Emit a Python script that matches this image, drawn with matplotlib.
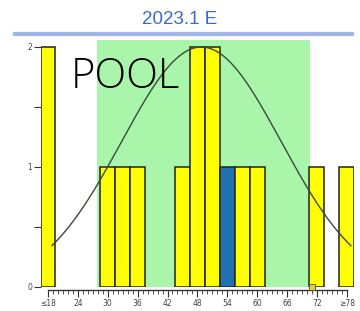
import matplotlib
matplotlib.use("Agg")
import matplotlib.pyplot as plt
import numpy as np

# Data
bin_centers = [18, 30, 33, 36, 45, 48, 51, 54, 57, 60, 72, 78]
counts = [2, 1, 1, 1, 1, 2, 2, 1, 1, 1, 1, 1]
bar_colors = ["#ffff00"] * 7 + ["#2272b0"] + ["#ffff00"] * 4
tick_values = [18, 24, 30, 36, 42, 48, 54, 60, 66, 72, 78]
tick_labels = ["≤18", "24", "30", "36", "42", "48", "54", "60", "66", "72", "≥78"]
curve_mean = 48.8
curve_sd = 16.0
curve_peak = 2.0
band_range = (27.8, 70.6)
marker_x = 71
title_text = "2023.1 E"
label_text = "POOL"

W, H = 360, 311
fig = plt.figure(figsize=(W / 100, H / 100), dpi=100)

left_px, right_px = 40.5, 354.3
top_px, bottom_px = 40, 287
ax = fig.add_axes([left_px / W, 1 - bottom_px / H,
                   (right_px - left_px) / W, (bottom_px - top_px) / H])
ax.set_xlim(16.5, 79.5)
ax.set_ylim(0, (bottom_px - top_px) / 120)

ax.axvspan(band_range[0], band_range[1], color="#a9f5a9", zorder=0, lw=0)

ax.bar(bin_centers, counts, width=3, color=bar_colors, edgecolor="#222222",
       linewidth=1.1, zorder=2)

xs = np.linspace(18.8, 78.8, 300)
ys = curve_peak * np.exp(-0.5 * ((xs - curve_mean) / curve_sd) ** 2)
ax.plot(xs, ys, color="#3c4a3c", lw=1.0, zorder=3)

ax.plot([marker_x], [0.0], marker="s", ms=4, color="#d8d24a",
        markeredgecolor="#555522", mew=0.6, clip_on=False, zorder=4)

for s in ["top", "right", "left"]:
    ax.spines[s].set_visible(False)
ax.spines["bottom"].set_position(("outward", 2))
ax.spines["bottom"].set_bounds(18, 78)
ax.spines["bottom"].set_color("#333333")
ax.spines["bottom"].set_linewidth(1.0)

ax.set_xticks(tick_values)
ax.set_xticklabels(tick_labels)
ax.set_xticks(np.arange(18, 79, 1), minor=True)
ax.tick_params(axis="x", which="major", length=5, width=0.8, colors="#333333",
               labelsize=5.5, pad=1.5, labelcolor="#444444")
ax.tick_params(axis="x", which="minor", length=3, width=0.6, colors="#333333")

ax.set_yticks([0, 1, 2])
ax.set_yticklabels(["0", "1", "2"])
ax.set_yticks([0.5, 1.5], minor=True)
ax.tick_params(axis="y", which="major", length=5, width=0.8, colors="#333333",
               labelsize=5.5, pad=1, labelcolor="#444444")
ax.tick_params(axis="y", which="minor", length=5, width=0.8, colors="#333333")

fig.text(180 / W, 1 - 20 / H, title_text, ha="center", va="center",
         fontsize=13.5, color="#3a6cc8", family="Liberation Sans")
fig.add_artist(plt.Line2D([15 / W, 352 / W], [1 - 34 / H, 1 - 34 / H],
                          color="#a3b6ea", lw=3))

fig.text(71 / W, 1 - 88 / H, label_text, ha="left", va="baseline",
         fontsize=30, color="#000000", family="Open Sans", fontweight=300)

fig.savefig("out.png", dpi=100)
